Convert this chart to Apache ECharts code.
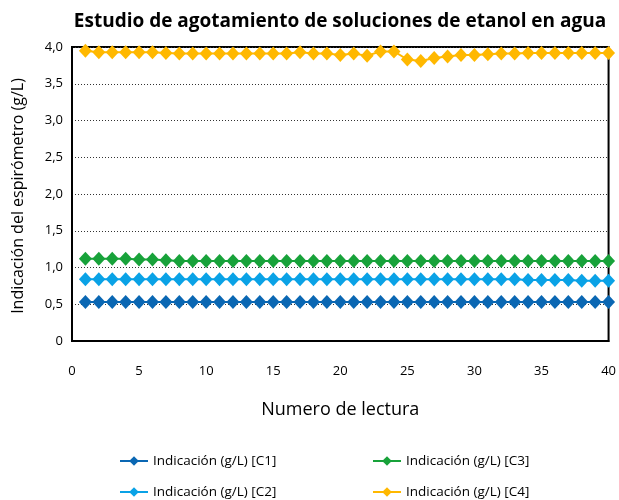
<!DOCTYPE html>
<html>
<head>
<meta charset="utf-8">
<script src="https://cdn.jsdelivr.net/npm/echarts@6/dist/echarts.min.js"></script>
<style>
  html, body { margin: 0; padding: 0; background: #fff; }
  #chart { width: 619px; height: 500px; }
</style>
</head>
<body>
<div id="chart"></div>
<script>
// datos
var lecturas = [];
for (var i = 1; i <= 40; i++) lecturas.push(i);

var c1 = [0.53,0.53,0.53,0.53,0.53,0.53,0.53,0.53,0.53,0.53,
          0.53,0.53,0.53,0.53,0.53,0.53,0.53,0.53,0.53,0.53,
          0.53,0.53,0.53,0.53,0.53,0.53,0.53,0.53,0.53,0.53,
          0.53,0.53,0.53,0.53,0.53,0.53,0.53,0.53,0.53,0.53];
var c2 = [0.84,0.84,0.84,0.84,0.84,0.84,0.84,0.84,0.84,0.84,
          0.84,0.84,0.84,0.84,0.84,0.84,0.84,0.84,0.84,0.84,
          0.84,0.84,0.84,0.84,0.84,0.84,0.84,0.84,0.84,0.84,
          0.84,0.84,0.84,0.83,0.83,0.83,0.83,0.82,0.82,0.82];
var c3 = [1.12,1.12,1.12,1.12,1.11,1.11,1.10,1.09,1.09,1.09,
          1.09,1.09,1.09,1.09,1.09,1.09,1.09,1.09,1.09,1.09,
          1.09,1.09,1.09,1.09,1.09,1.09,1.09,1.09,1.09,1.09,
          1.09,1.09,1.09,1.09,1.09,1.09,1.09,1.09,1.09,1.09];
var c4 = [3.95,3.93,3.93,3.93,3.93,3.93,3.92,3.91,3.91,3.91,
          3.91,3.91,3.91,3.91,3.91,3.91,3.93,3.91,3.91,3.89,
          3.91,3.88,3.94,3.94,3.83,3.81,3.85,3.87,3.89,3.89,
          3.90,3.91,3.91,3.92,3.92,3.92,3.92,3.92,3.92,3.92];

var nombres = ['Indicación (g/L) [C1]', 'Indicación (g/L) [C2]', 'Indicación (g/L) [C3]', 'Indicación (g/L) [C4]'];
var colores = ['#0a67b3', '#0aa2e6', '#18a23a', '#ffb800'];
var valores = [c1, c2, c3, c4];

var fuente = '"Open Sans", sans-serif';

function pares(arr) {
  return arr.map(function (v, k) { return [lecturas[k], v]; });
}

var series = valores.map(function (arr, k) {
  return {
    name: nombres[k],
    type: 'line',
    data: pares(arr),
    symbol: 'diamond',
    symbolSize: [13, 14],
    lineStyle: { color: colores[k], width: 2 },
    itemStyle: { color: colores[k] },
    silent: true,
    animation: false
  };
});

// leyenda en 2 columnas: C1/C2 a la izquierda, C3/C4 a la derecha
var posLeyenda = [[114, 449], [114, 480], [367, 449], [367, 480]];
var leyendas = nombres.map(function (n, k) {
  return {
    data: [n],
    left: posLeyenda[k][0], top: posLeyenda[k][1],
    itemWidth: 28, itemHeight: 12,
    textStyle: { fontFamily: fuente, fontSize: 13.5, color: '#000' }
  };
});

var myChart = echarts.init(document.getElementById('chart'));
var option = {
  backgroundColor: '#fff',
  animation: false,
  title: {
    text: 'Estudio de agotamiento de soluciones de etanol en agua',
    left: 335,
    textAlign: 'center',
    top: 7,
    textStyle: { fontFamily: fuente, fontWeight: 'bold', fontSize: 19, color: '#000' }
  },
  grid: { left: 72, right: 10, top: 47, bottom: 159, show: true, borderColor: '#000', borderWidth: 2 },
  // título del eje Y, girado
  graphic: [{
    type: 'text',
    x: 18, y: 196,
    rotation: Math.PI / 2,
    style: {
      text: 'Indicación del espirómetro (g/L)',
      fontFamily: fuente, fontSize: 16, fill: '#000',
      align: 'center', verticalAlign: 'middle'
    }
  }],
  xAxis: {
    type: 'value',
    min: 0, max: 40, interval: 5,
    name: 'Numero de lectura',
    nameLocation: 'middle',
    nameGap: 60,
    nameTextStyle: { fontFamily: fuente, fontSize: 18, color: '#000' },
    axisLine: { show: true, lineStyle: { color: '#000', width: 2 } },
    axisTick: { show: false },
    splitLine: { show: false },
    axisLabel: { margin: 24, fontFamily: fuente, fontSize: 13, color: '#000' }
  },
  yAxis: {
    type: 'value',
    min: 0, max: 4, interval: 0.5,
    axisLine: { show: true, lineStyle: { color: '#000', width: 2 } },
    axisTick: { show: false },
    splitLine: { show: true, lineStyle: { color: '#333', type: [1, 2], width: 1 } },
    axisLabel: {
      margin: 9, fontFamily: fuente, fontSize: 13, color: '#000',
      formatter: function (v) { return v === 0 ? '0' : v.toFixed(1).replace('.', ','); }
    }
  },
  legend: leyendas,
  series: series
};
myChart.setOption(option);
</script>
</body>
</html>
